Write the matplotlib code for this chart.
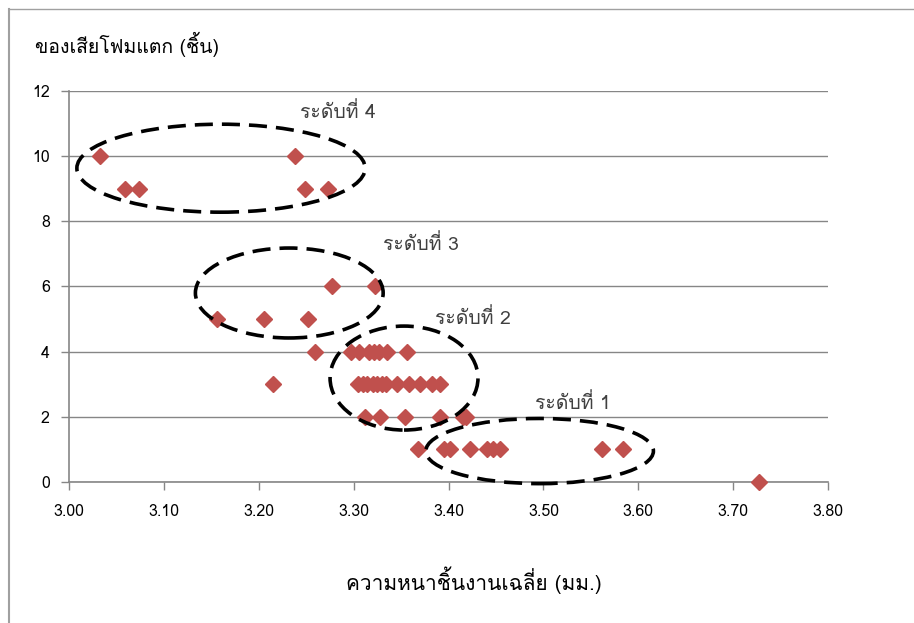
import matplotlib
matplotlib.use("Agg")
import matplotlib.pyplot as plt
from matplotlib import font_manager
from matplotlib.ft2font import FT2Font
from matplotlib.patches import Ellipse
from matplotlib.lines import Line2D


# หาฟอนต์ที่มีอักษรไทย
def find_thai_font():
    for f in font_manager.fontManager.ttflist:
        try:
            if ord("ก") in FT2Font(f.fname).get_charmap():
                return f.name
        except Exception:
            pass
    return None


thai_font = find_thai_font()
families = ([thai_font] if thai_font else []) + ["DejaVu Sans"]
plt.rcParams["font.family"] = families

# ข้อมูล: ความหนาเฉลี่ย (มม.) กับจำนวนของเสีย (ชิ้น)
thickness = [
    3.032, 3.059, 3.073, 3.238, 3.249, 3.273,
    3.277, 3.322, 3.156, 3.205, 3.252,
    3.259, 3.297, 3.305, 3.316, 3.321, 3.327, 3.335, 3.356,
    3.215, 3.304, 3.310, 3.314, 3.320, 3.325, 3.330, 3.334, 3.346, 3.358, 3.370, 3.382, 3.391,
    3.312, 3.328, 3.354, 3.391, 3.415, 3.418,
    3.368, 3.395, 3.402, 3.423, 3.441, 3.447, 3.454, 3.562, 3.584,
    3.727,
]
defects = [
    10, 9, 9, 10, 9, 9,
    6, 6, 5, 5, 5,
    4, 4, 4, 4, 4, 4, 4, 4,
    3, 3, 3, 3, 3, 3, 3, 3, 3, 3, 3, 3, 3,
    2, 2, 2, 2, 2, 2,
    1, 1, 1, 1, 1, 1, 1, 1, 1,
    0,
]

# กลุ่มระดับ: ศูนย์กลาง, ความกว้าง, ความสูง, ตำแหน่งป้าย
level_names = ["ระดับที่ 4", "ระดับที่ 3", "ระดับที่ 2", "ระดับที่ 1"]
level_centers = [(3.160, 9.63), (3.232, 5.80), (3.353, 3.19), (3.496, 0.95)]
level_sizes = [(0.304, 2.70), (0.198, 2.76), (0.156, 3.19), (0.240, 2.00)]
label_pos = [(3.243, 11.35), (3.331, 7.30), (3.386, 5.03), (3.491, 2.42)]

fig = plt.figure(figsize=(9.14, 6.23), dpi=100)
ax = fig.add_axes([0.0758, 0.2263, 0.830, 0.6277])

ax.plot(thickness, defects, linestyle="none", marker="D", markersize=8,
        color="#C0504D", zorder=3, clip_on=False)

for name, c, s, p in zip(level_names, level_centers, level_sizes, label_pos):
    ax.add_patch(Ellipse(c, s[0], s[1], fill=False, edgecolor="black",
                         linewidth=2.6, linestyle=(0, (5, 2.5)), zorder=4,
                         clip_on=False))
    ax.text(p[0], p[1], name, fontsize=14, color="#404040",
            ha="left", va="center")

ax.set_xlim(3.0, 3.8)
ax.set_ylim(0, 12)
ax.set_xticks([3.0 + 0.1 * i for i in range(9)])
ax.set_xticklabels([f"{3.0 + 0.1 * i:.2f}" for i in range(9)])
ax.set_yticks(range(0, 13, 2))
ax.tick_params(axis="both", direction="out", length=6, color="#868686",
               labelsize=11.5, labelcolor="black", width=1)
ax.tick_params(axis="x", pad=10)
ax.tick_params(axis="y", pad=8)
ax.grid(axis="y", color="#868686", linewidth=1)
ax.set_axisbelow(True)
for side in ["top", "right"]:
    ax.spines[side].set_visible(False)
for side in ["left", "bottom"]:
    ax.spines[side].set_color("#868686")
    ax.spines[side].set_linewidth(1.2)

fig.text(0.038, 0.928, "ของเสียโฟมแตก (ชิ้น)", fontsize=14, ha="left", va="center")
fig.text(0.519, 0.069, "ความหนาชิ้นงานเฉลี่ย (มม.)", fontsize=15, ha="center", va="center")

# กรอบของแผนภูมิ
fig.add_artist(Line2D([0.0098, 0.0098], [0, 0.9855], color="#A0A0A0", linewidth=1.5))
fig.add_artist(Line2D([0.0098, 1.0], [0.9855, 0.9855], color="#A0A0A0", linewidth=1.0))

fig.savefig("out.png", dpi=100)
